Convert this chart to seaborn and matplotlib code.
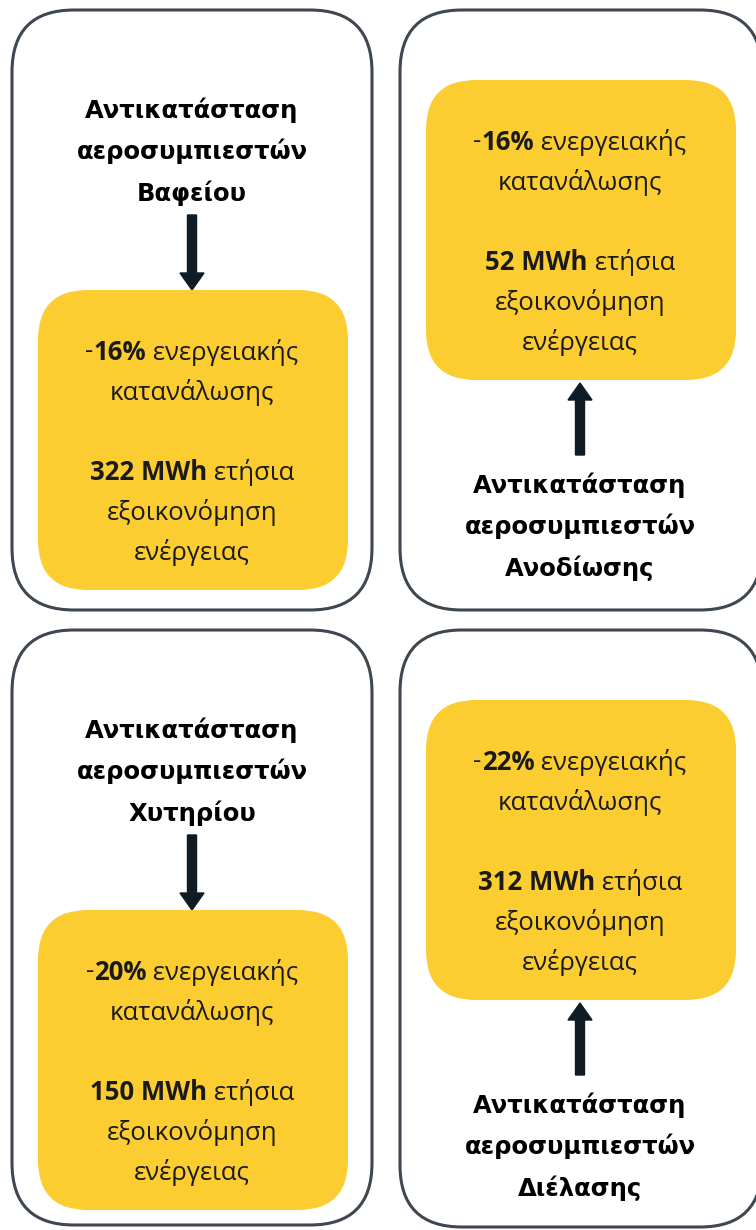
import matplotlib
matplotlib.use("Agg")
import matplotlib.pyplot as plt
from matplotlib.patches import FancyBboxPatch, FancyArrow
import seaborn as sns

# panel content
plants = ["Βαφείου", "Ανοδίωσης", "Χυτηρίου", "Διέλασης"]
savings_pct = ["16%", "16%", "20%", "22%"]
savings_mwh = ["322 MWh", "52 MWh", "150 MWh", "312 MWh"]
title_on_top = [True, False, True, False]

title_line1 = "Αντικατάσταση"
title_line2 = "αεροσυμπιεστών"

YELLOW = "#FBCD30"
BORDER = "#3f4750"
ARROW = "#0f1c26"
BODY = "Open Sans"
BODY_SIZE = 18.5

sns.set_theme(style="white")
plt.rcParams["font.family"] = ["DejaVu Sans"]

W, H = 756, 1230
fig = plt.figure(figsize=(W / 100, H / 100), dpi=100)
ax = fig.add_axes([0, 0, 1, 1])
ax.set_xlim(0, W)
ax.set_ylim(H, 0)
ax.axis("off")

# panel frames: (x0, y0, w, h)
outer = [(12, 10, 360, 600), (400, 10, 362, 600),
         (12, 630, 360, 595), (400, 630, 362, 597)]

rich_lines = []  # (x, y, bold, regular, prefix)

for i, (ox, oy, ow, oh) in enumerate(outer):
    ax.add_patch(FancyBboxPatch((ox, oy), ow, oh,
                                boxstyle="round,pad=0,rounding_size=62",
                                fc="white", ec=BORDER, lw=2.2))
    cx = ox + 180
    if title_on_top[i]:
        ty = oy + 100
        ybox = oy + 280
        ax.add_patch(FancyArrow(cx, oy + 205, 0, 75, width=9, head_width=24,
                                head_length=17, length_includes_head=True,
                                color=ARROW))
        title_ys = [ty, ty + 41, ty + 83]
    else:
        ybox = oy + 70
        ax.add_patch(FancyArrow(cx, oy + 445, 0, -72, width=9, head_width=24,
                                head_length=17, length_includes_head=True,
                                color=ARROW))
        title_ys = [oy + 475, oy + 516, oy + 558]
    for txt, yy in zip([title_line1, title_line2, plants[i]], title_ys):
        ax.text(cx, yy, txt, ha="center", va="center", fontsize=17.5,
                fontweight="bold", color="black")

    bx = ox + 26
    ax.add_patch(FancyBboxPatch((bx, ybox), 310, 300,
                                boxstyle="round,pad=0,rounding_size=50",
                                fc=YELLOW, ec="none"))
    ly = ybox + 62
    rich_lines.append((cx, ly, savings_pct[i], " ενεργειακής", "-"))
    ax.text(cx, ly + 40, "κατανάλωσης", ha="center", va="center",
            fontsize=BODY_SIZE, family=BODY, color="#1a1a1a")
    rich_lines.append((cx, ly + 120, savings_mwh[i], " ετήσια", ""))
    ax.text(cx, ly + 160, "εξοικονόμηση", ha="center", va="center",
            fontsize=BODY_SIZE, family=BODY, color="#1a1a1a")
    ax.text(cx, ly + 200, "ενέργειας", ha="center", va="center",
            fontsize=BODY_SIZE, family=BODY, color="#1a1a1a")

# lines with a bold part: measure and center as one piece
fig.canvas.draw()
r = fig.canvas.get_renderer()
inv = ax.transData.inverted()


def width_of(t):
    bb = t.get_window_extent(renderer=r)
    return inv.transform((bb.x1, 0))[0] - inv.transform((bb.x0, 0))[0]


for cx, yy, bold, reg, prefix in rich_lines:
    parts = []
    if prefix:
        parts.append(ax.text(0, yy, prefix, ha="left", va="center",
                             fontsize=BODY_SIZE, family=BODY, color="#1a1a1a"))
    parts.append(ax.text(0, yy, bold, ha="left", va="center", fontsize=BODY_SIZE,
                         family=BODY, fontweight="bold", color="#1a1a1a"))
    parts.append(ax.text(0, yy, reg, ha="left", va="center", fontsize=BODY_SIZE,
                         family=BODY, color="#1a1a1a"))
    widths = [width_of(p) for p in parts]
    x = cx - sum(widths) / 2
    for p, w in zip(parts, widths):
        p.set_x(x)
        x += w

fig.savefig("out.png", dpi=100)
